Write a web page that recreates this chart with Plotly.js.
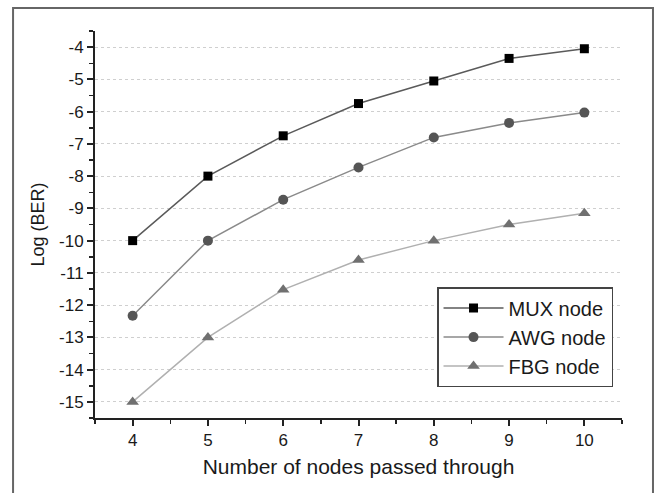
<!DOCTYPE html>
<html>
<head>
<meta charset="utf-8">
<script src="https://cdn.plot.ly/plotly-3.0.1.min.js"></script>
<style>
html,body{margin:0;padding:0;background:#fff;}
#chart{width:655px;height:493px;}
</style>
</head>
<body>
<div id="chart"></div>
<script>
const nodes = [4, 5, 6, 7, 8, 9, 10];
const muxNode = [-10, -8, -6.75, -5.75, -5.05, -4.35, -4.05];
const awgNode = [-12.33, -10, -8.73, -7.73, -6.8, -6.35, -6.03];
const fbgNode = [-15, -13, -11.52, -10.6, -10, -9.5, -9.15];
const seriesNames = ['MUX node', 'AWG node', 'FBG node'];
const yTickVals = [-15, -14, -13, -12, -11, -10, -9, -8, -7, -6, -5, -4];
const yTickText = ['-15', '-14', '-13', '-12', '-11', '-10', '-9', '-8', '-7', '-6', '-5', '-4'];
const xTickVals = [4, 5, 6, 7, 8, 9, 10];

const traces = [
  {x: nodes, y: muxNode, name: seriesNames[0], mode: 'lines+markers', type: 'scatter',
   line: {color: '#5a5a5a', width: 1.5},
   marker: {symbol: 'square', size: 9, color: '#000'}},
  {x: nodes, y: awgNode, name: seriesNames[1], mode: 'lines+markers', type: 'scatter',
   line: {color: '#8a8a8a', width: 1.5},
   marker: {symbol: 'circle', size: 10, color: '#555'}},
  {x: nodes, y: fbgNode, name: seriesNames[2], mode: 'lines+markers', type: 'scatter',
   line: {color: '#b0b0b0', width: 1.5},
   marker: {symbol: 'triangle-up', size: 11, color: '#707070'}}
];

const layout = {
  width: 655, height: 493,
  margin: {l: 95, r: 33, t: 31, b: 75},
  paper_bgcolor: '#fff', plot_bgcolor: '#fff',
  font: {family: 'Liberation Sans, Arial, sans-serif', color: '#1a1a1a'},
  showlegend: true,
  legend: {x: 0.649, y: 0.209, xanchor: 'left', yanchor: 'middle',
    bgcolor: '#fff', bordercolor: '#444', borderwidth: 1.5,
    font: {size: 20, color: '#1a1a1a'}, tracegroupgap: 0, itemwidth: 60},
  xaxis: {
    range: [3.5, 10.5], tickvals: xTickVals, ticks: 'outside', ticklen: 6, tickwidth: 2,
    tickcolor: '#222', showline: true, linecolor: '#222', linewidth: 2,
    showgrid: false, zeroline: false, tickfont: {size: 17, color: '#1a1a1a'},
    minor: {dtick: 0.5, tick0: 3.5, ticks: 'outside', ticklen: 4, tickwidth: 1.5, tickcolor: '#222', showgrid: false},
    title: {text: 'Number of nodes passed through', font: {size: 21, color: '#1a1a1a'}, standoff: 10}
  },
  yaxis: {
    range: [-15.5, -3.5], tickvals: yTickVals, ticktext: yTickText, ticks: 'outside', ticklen: 6, tickwidth: 2,
    tickcolor: '#222', showline: true, linecolor: '#222', linewidth: 2,
    showgrid: true, gridcolor: '#cfcfcf', griddash: 'dot', gridwidth: 1,
    zeroline: false, tickfont: {size: 17, color: '#1a1a1a'},
    minor: {dtick: 0.5, tick0: -15.5, ticks: 'outside', ticklen: 4, tickwidth: 1.5, tickcolor: '#222', showgrid: false},
    title: {text: 'Log (BER)', font: {size: 18, color: '#1a1a1a'}, standoff: 10}
  },
  shapes: [
    {type: 'path', xref: 'paper', yref: 'paper',
     path: 'M -0.1555 -0.2 L -0.1555 1.0594 L 1.0588 1.0594 L 1.0588 -0.2',
     line: {color: '#666', width: 2}}
  ]
};

Plotly.newPlot('chart', traces, layout, {displayModeBar: false, staticPlot: true});
</script>
</body>
</html>
